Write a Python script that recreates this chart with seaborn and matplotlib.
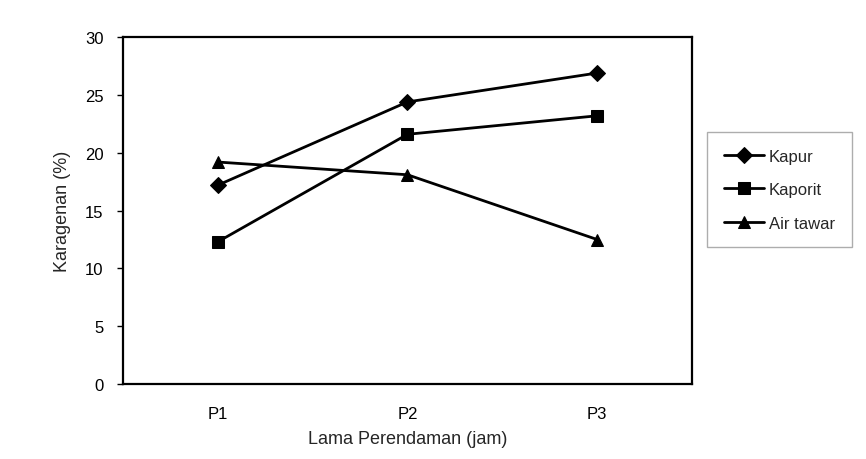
import matplotlib
matplotlib.use("Agg")
import matplotlib.pyplot as plt
import seaborn as sns
import pandas as pd

categories = ["P1", "P2", "P3"]
kapur = [17.2, 24.4, 26.9]
kaporit = [12.3, 21.6, 23.2]
air_tawar = [19.2, 18.1, 12.5]
series_names = ["Kapur", "Kaporit", "Air tawar"]
y_ticks = [0, 5, 10, 15, 20, 25, 30]

sns.set_theme(style="white")
plt.rcParams["font.family"] = ["Liberation Sans Narrow", "Liberation Sans", "DejaVu Sans"]

rows = []
for name, vals in zip(series_names, [kapur, kaporit, air_tawar]):
    for i, (c, v) in enumerate(zip(categories, vals)):
        rows.append({"idx": i, "Perlakuan": c, "Karagenan": v, "Seri": name})
df = pd.DataFrame(rows)

fig = plt.figure(figsize=(8.66, 4.6), dpi=100)
ax = fig.add_axes([0.142, 0.163, 0.657, 0.754])

sns.lineplot(data=df, x="idx", y="Karagenan", hue="Seri", style="Seri",
             palette=["black"] * 3, markers={"Kapur": "D", "Kaporit": "s", "Air tawar": "^"},
             dashes=False, linewidth=2, markersize=8, markeredgecolor="black",
             ax=ax, legend=True)

ax.set_xlim(-0.5, len(categories) - 0.5)
ax.set_ylim(0, 30)
ax.set_xticks(range(len(categories)))
ax.set_xticklabels(categories, fontsize=12)
ax.set_yticks(y_ticks)
ax.set_yticklabels([str(t) for t in y_ticks], fontsize=12)
ax.set_xlabel("Lama Perendaman (jam)", fontsize=13, labelpad=6)
ax.set_ylabel("Karagenan (%)", fontsize=13, labelpad=10)
ax.tick_params(axis="y", which="both", left=True, length=4, width=1, color="black",
               labelcolor="black", pad=10)
ax.tick_params(axis="x", bottom=False, labelcolor="black", pad=10)
for s in ax.spines.values():
    s.set_visible(True)
    s.set_color("black")
    s.set_linewidth(1.6)

handles, labels = ax.get_legend_handles_labels()
for h in handles:
    h.set_markeredgecolor("black")
leg = ax.legend(handles, labels, loc="center left", bbox_to_anchor=(1.012, 0.56),
                frameon=True, fancybox=False, edgecolor="#999999", fontsize=12,
                handlelength=2.4, borderpad=1.0, labelspacing=1.1, handletextpad=0.3)
leg.get_frame().set_linewidth(1.0)

fig.patch.set_facecolor("white")
fig.savefig("out.png", dpi=100)
